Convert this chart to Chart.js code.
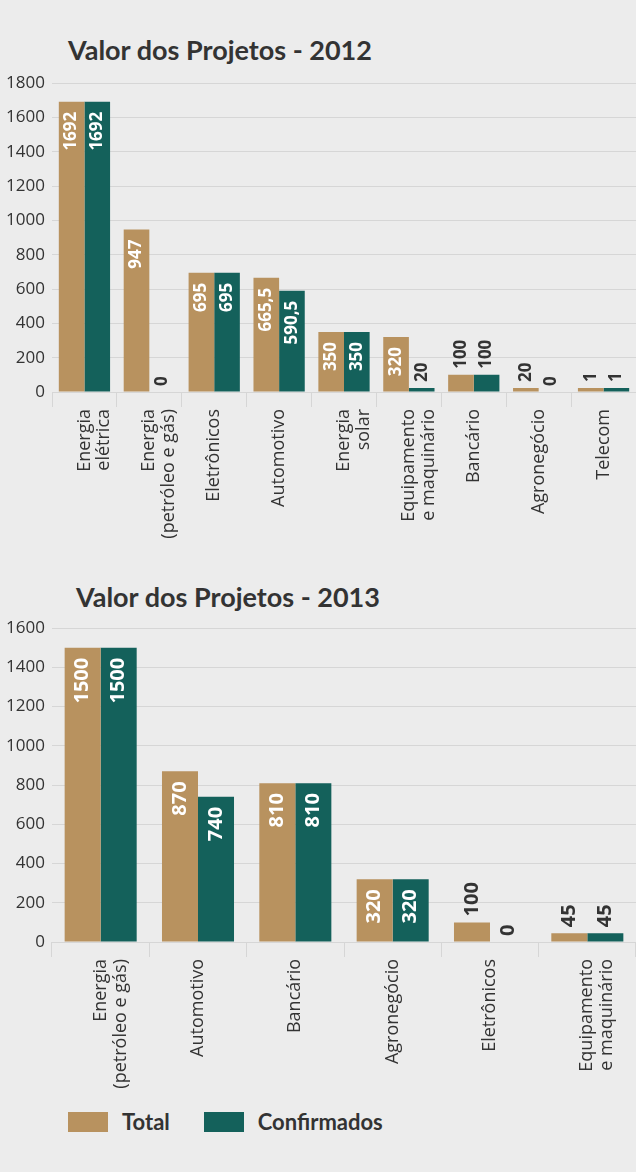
<!DOCTYPE html>
<html>
<head>
<meta charset="utf-8">
<script src="https://cdn.jsdelivr.net/npm/chart.js@4/dist/chart.umd.min.js"></script>
<style>
  html, body { margin: 0; padding: 0; background: #ececec; }
  body { width: 636px; height: 1172px; position: relative; overflow: hidden; font-family: "Open Sans", sans-serif; color: #333; }
  .title { position: absolute; font-family: Lato, sans-serif; font-weight: 700; font-size: 27px; line-height: 30px; color: #333; white-space: nowrap; }
  canvas { position: absolute; left: 0; }
  .legend { position: absolute; top: 1108px; left: 68px; display: flex; align-items: center; font-family: Lato, sans-serif; font-weight: 700; font-size: 22px; color: #333; }
  .legend .box { width: 40px; height: 20px; display: inline-block; margin-right: 14px; }
  .legend .item { display: flex; align-items: center; margin-right: 34px; }
</style>
</head>
<body>
<div class="title" style="top:35px; left:68px;">Valor dos Projetos - 2012</div>
<canvas id="chart2012" width="636" height="476" style="top:66px;"></canvas>
<div class="title" style="top:582px; left:76px;">Valor dos Projetos - 2013</div>
<canvas id="chart2013" width="636" height="481" style="top:611px;"></canvas>
<div class="legend">
  <div class="item"><span class="box" style="background:#b8925f"></span>Total</div>
  <div class="item"><span class="box" style="background:#14615b"></span>Confirmados</div>
</div>
<script>
// 2012
const categories2012 = [['Energia', 'elétrica'], ['Energia', '(petróleo e gás)'], 'Eletrônicos', 'Automotivo',
    ['Energia', 'solar'], ['Equipamento', 'e maquinário'], 'Bancário', 'Agronegócio', 'Telecom'];
const total2012 = [1692, 947, 695, 665.5, 350, 320, 100, 20, 1];
const confirmed2012 = [1692, 0, 695, 590.5, 350, 20, 100, 0, 1];
const yTicks2012 = [0, 200, 400, 600, 800, 1000, 1200, 1400, 1600, 1800];

// 2013
const categories2013 = [['Energia', '(petróleo e gás)'], 'Automotivo', 'Bancário', 'Agronegócio', 'Eletrônicos',
    ['Equipamento', 'e maquinário']];
const total2013 = [1500, 870, 810, 320, 100, 45];
const confirmed2013 = [1500, 740, 810, 320, 0, 45];
const yTicks2013 = [0, 200, 400, 600, 800, 1000, 1200, 1400, 1600];

const TAN = '#b8925f';
const TEAL = '#14615b';
const TEXT = '#333333';
const GRID = '#d6d6d6';
const FONT = '"Open Sans", sans-serif';

// zeros are kept out of the bars (no bar drawn), the label still shows "0"
function barData(values) {
    return values.map(v => v === 0 ? null : v);
}

function fmt(v) {
    return String(v).replace('.', ',');
}

// value labels, rotated, inside the bar top when they fit, above it otherwise
const valueLabels = {
    id: 'valueLabels',
    afterDatasetsDraw(chart, args, opts) {
        const ctx = chart.ctx;
        const yScale = chart.scales.y;
        const base = yScale.getPixelForValue(0);
        ctx.save();
        ctx.font = 'bold ' + opts.size + 'px ' + FONT;
        ctx.textBaseline = 'middle';
        chart.data.datasets.forEach((ds, di) => {
            const meta = chart.getDatasetMeta(di);
            ds.raw.forEach((v, i) => {
                const el = meta.data[i];
                const barTop = v === 0 ? base : Math.min(el.y, yScale.getPixelForValue(v));
                const text = fmt(v);
                const w = ctx.measureText(text).width;
                const h = base - barTop;
                ctx.save();
                ctx.translate(el.x, barTop);
                ctx.rotate(-Math.PI / 2);
                if (h >= w + 16) {
                    ctx.fillStyle = '#ffffff';
                    ctx.textAlign = 'right';
                    ctx.fillText(text, -opts.inset, 0);
                } else {
                    ctx.fillStyle = TEXT;
                    ctx.textAlign = 'left';
                    ctx.fillText(text, 6, 0);
                }
                ctx.restore();
            });
        });
        ctx.restore();
    }
};

function makeChart(id, labels, total, confirmed, yTicks, catPct, labelSize) {
    const ctx = document.getElementById(id).getContext('2d');
    return new Chart(ctx, {
        type: 'bar',
        data: {
            labels: labels,
            datasets: [{
                label: 'Total',
                data: barData(total),
                raw: total,
                backgroundColor: TAN,
                borderWidth: 0,
                minBarLength: 4
            }, {
                label: 'Confirmados',
                data: barData(confirmed),
                raw: confirmed,
                backgroundColor: TEAL,
                borderWidth: 0,
                minBarLength: 4
            }]
        },
        options: {
            responsive: false,
            animation: false,
            layout: { padding: 0 },
            datasets: {
                bar: { categoryPercentage: catPct, barPercentage: 1.0 }
            },
            plugins: {
                legend: { display: false },
                tooltip: { enabled: false },
                valueLabels: { size: labelSize, inset: 10 }
            },
            scales: {
                y: {
                    min: 0,
                    max: yTicks[yTicks.length - 1],
                    afterBuildTicks: function (scale) {
                        scale.ticks = yTicks.map(v => ({ value: v }));
                    },
                    afterFit: function (scale) { scale.width = 52; },
                    border: { display: false },
                    grid: { color: GRID, lineWidth: 1, drawTicks: false },
                    ticks: {
                        color: TEXT,
                        padding: 7,
                        font: { family: FONT, size: 17 },
                        callback: function (value) { return String(value); }
                    }
                },
                x: {
                    afterFit: function (scale) { scale.height = 150; },
                    border: { display: false },
                    grid: {
                        offset: true,
                        drawOnChartArea: false,
                        drawTicks: true,
                        tickLength: 15,
                        color: GRID
                    },
                    ticks: {
                        color: TEXT,
                        autoSkip: false,
                        minRotation: 90,
                        maxRotation: 90,
                        padding: 2,
                        font: { family: FONT, size: 18, lineHeight: 1.1 }
                    }
                }
            }
        },
        plugins: [valueLabels]
    });
}

Promise.all([
    document.fonts.load('17px "Open Sans"'),
    document.fonts.load('bold 17px "Open Sans"')
]).catch(function () {}).then(function () {
    makeChart('chart2012', categories2012, total2012, confirmed2012, yTicks2012, 0.79, 17);
    makeChart('chart2013', categories2013, total2013, confirmed2013, yTicks2013, 0.74, 20);
});
</script>
</body>
</html>
